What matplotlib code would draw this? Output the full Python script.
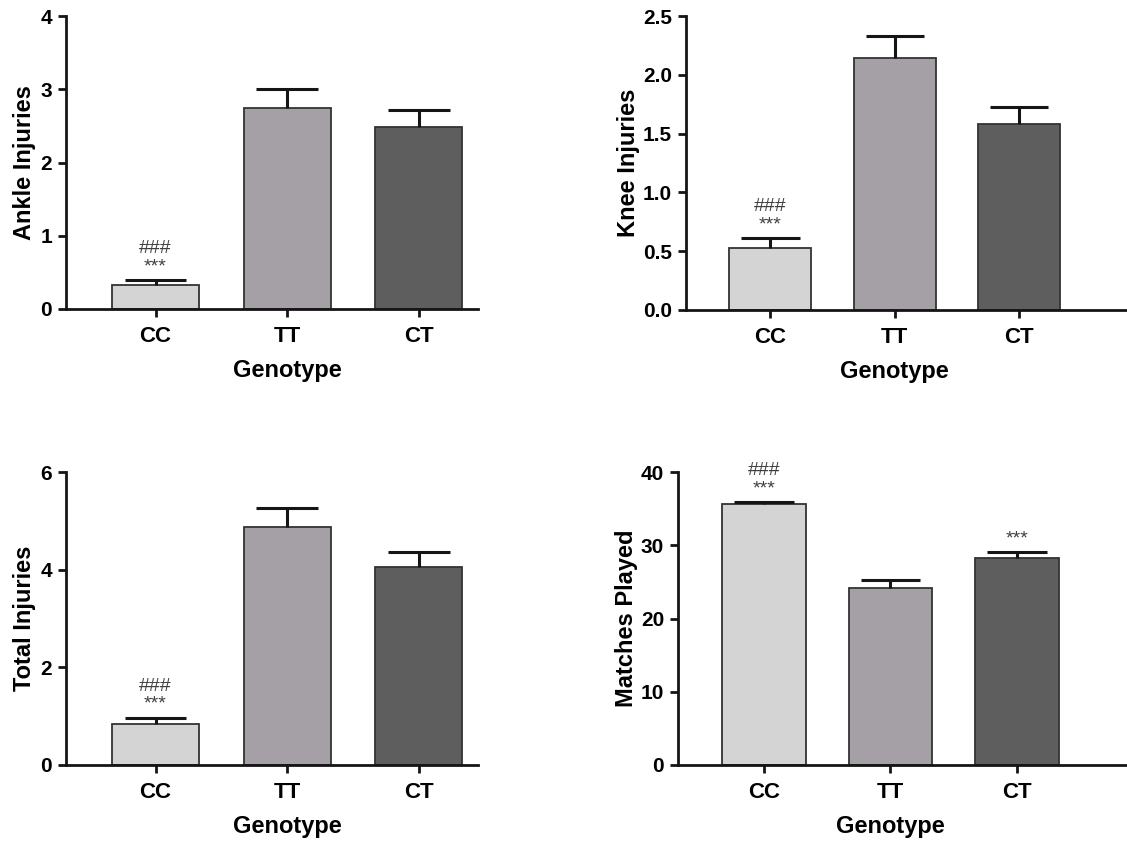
import matplotlib
matplotlib.use("Agg")
import matplotlib.pyplot as plt

plt.rcParams['font.family'] = ['Liberation Sans', 'DejaVu Sans']

genotypes = ["CC", "TT", "CT"]
bar_colors = ["#d4d4d4", "#a4a0a5", "#5e5e5e"]

ankle_mean = [0.33, 2.74, 2.49]
ankle_sem = [0.07, 0.27, 0.22]

knee_mean = [0.53, 2.14, 1.58]
knee_sem = [0.085, 0.19, 0.145]

total_mean = [0.83, 4.87, 4.06]
total_sem = [0.14, 0.40, 0.30]

matches_mean = [35.6, 24.1, 28.2]
matches_sem = [0.3, 1.2, 0.9]

ankle_ticks = [0, 1, 2, 3, 4]
knee_ticks = [0.0, 0.5, 1.0, 1.5, 2.0, 2.5]
total_ticks = [0, 2, 4, 6]
matches_ticks = [0, 10, 20, 30, 40]

# significance marks per bar: (upper line, lower line)
ankle_sig = [("###", "***"), None, None]
knee_sig = [("###", "***"), None, None]
total_sig = [("###", "***"), None, None]
matches_sig = [("###", "***"), None, (None, "***")]

panels = [
    # rect, mean, sem, ticks, tick format, ylabel, sig, xmax, ylabel pad
    ([66 / 1127, 1 - 309 / 843, 412 / 1127, 293 / 843], ankle_mean, ankle_sem,
     ankle_ticks, "{:g}", "Ankle Injuries", ankle_sig, 2.45, 3),
    ([686 / 1127, 1 - 310 / 843, 441 / 1127, 294 / 843], knee_mean, knee_sem,
     knee_ticks, "{:.1f}", "Knee Injuries", knee_sig, 2.87, 2),
    ([66 / 1127, 1 - 765 / 843, 412 / 1127, 293 / 843], total_mean, total_sem,
     total_ticks, "{:g}", "Total Injuries", total_sig, 2.45, 3),
    ([678 / 1127, 1 - 765 / 843, 449 / 1127, 293 / 843], matches_mean, matches_sem,
     matches_ticks, "{:g}", "Matches Played", matches_sig, 2.87, 2),
]

BAR_W = 0.66
CAP_HALF = 0.235
XMIN = -0.68
INK = "#151515"

fig = plt.figure(figsize=(11.27, 8.43), dpi=100)

for rect, mean, sem, ticks, fmt, ylabel, sig, xmax, ypad in panels:
    ax = fig.add_axes(rect)
    x = list(range(len(genotypes)))
    ax.bar(x, mean, width=BAR_W, color=bar_colors, edgecolor="#333333",
           linewidth=1.3, zorder=2)
    # upper-only SEM whiskers with a cap
    tops = [m + s for m, s in zip(mean, sem)]
    ax.vlines(x, mean, tops, colors=INK, linewidth=2.2, zorder=3)
    ax.hlines(tops, [xi - CAP_HALF for xi in x], [xi + CAP_HALF for xi in x],
              colors=INK, linewidth=2.2, zorder=3)

    ax.set_xlim(XMIN, xmax)
    ax.set_ylim(ticks[0], ticks[-1])
    ax.set_yticks(ticks)
    ax.set_yticklabels([fmt.format(t) for t in ticks], fontsize=15,
                       fontweight="bold")
    ax.set_xticks(x)
    ax.set_xticklabels(genotypes, fontsize=16, fontweight="bold")
    # x title sits centred over the middle group
    mid = x[len(x) // 2]
    ax.set_xlabel("Genotype", fontsize=17, fontweight="bold", labelpad=9,
                  x=(mid - XMIN) / (xmax - XMIN))
    ax.set_ylabel(ylabel, fontsize=17, fontweight="bold", labelpad=ypad)
    for side in ("top", "right"):
        ax.spines[side].set_visible(False)
    for side in ("left", "bottom"):
        ax.spines[side].set_linewidth(2.0)
        ax.spines[side].set_color(INK)
        ax.spines[side].set_zorder(4)
    ax.tick_params(axis="both", direction="out", length=6, width=2.0,
                   color=INK, pad=4)
    ax.tick_params(axis="x", pad=6)

    for xi, t, marks in zip(x, tops, sig):
        if not marks:
            continue
        top_mark, low_mark = marks
        if low_mark:
            ax.annotate(low_mark, (xi, t), xytext=(0, 9.5),
                        textcoords="offset points", ha="center", va="center",
                        fontsize=14, color="#404040")
        if top_mark:
            ax.annotate(top_mark, (xi, t), xytext=(0, 22.5),
                        textcoords="offset points", ha="center", va="center",
                        fontsize=14, color="#404040")

fig.savefig("out.png", dpi=100, facecolor="white")
